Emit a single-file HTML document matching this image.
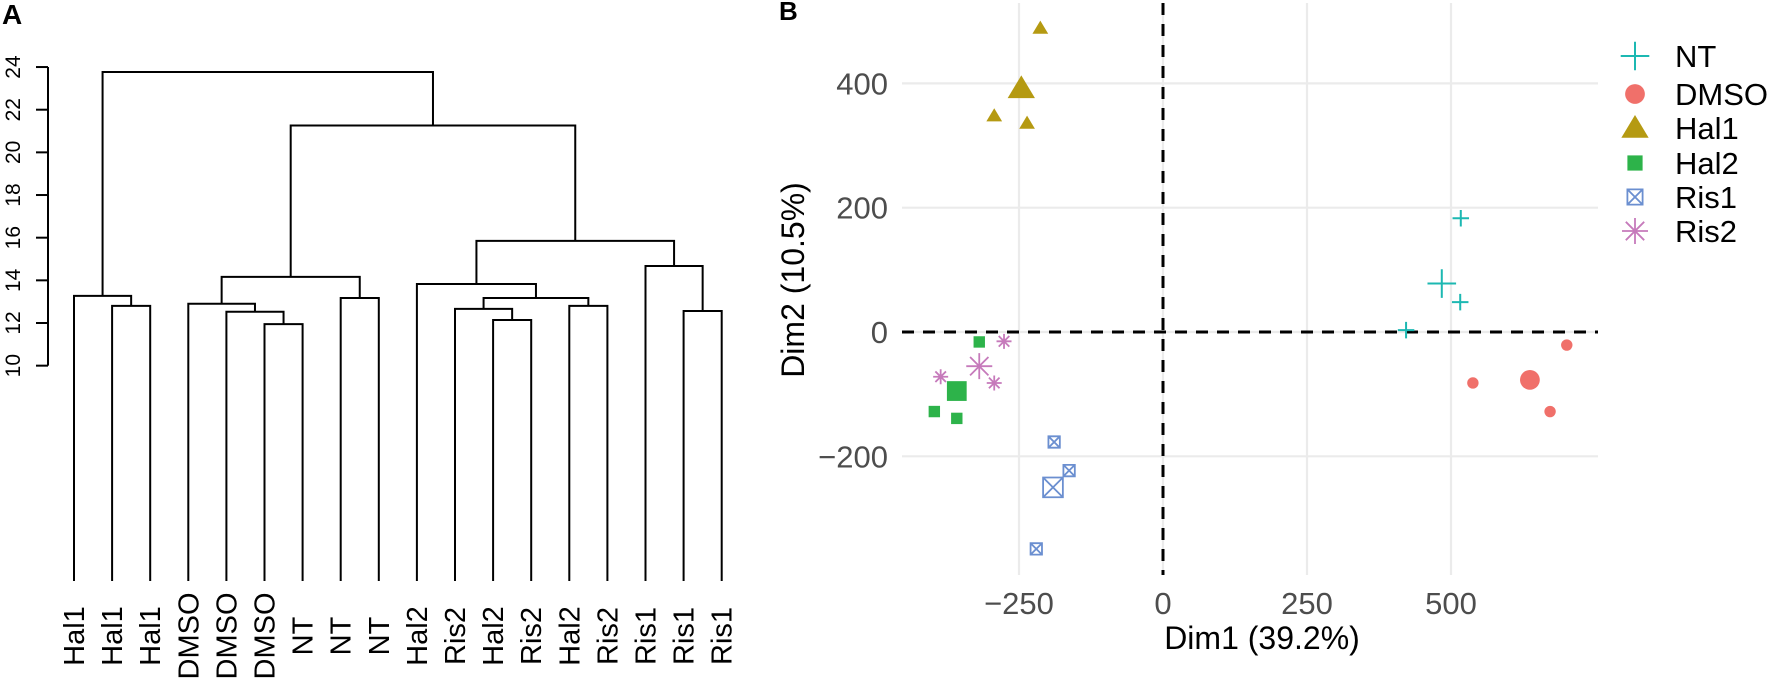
<!DOCTYPE html>
<html><head><meta charset="utf-8">
<style>
html,body{margin:0;padding:0;background:#fff;}
svg{display:block;font-family:"Liberation Sans",Arial,sans-serif;}
</style></head>
<body>
<svg id="fig" width="1772" height="688" viewBox="0 0 1772 688" xmlns="http://www.w3.org/2000/svg">
  <rect width="1772" height="688" fill="#fff"/>
  <text x="2" y="24" font-size="28" font-weight="bold">A</text>
  <text x="779" y="20" font-size="26" font-weight="bold">B</text>
  <g id="dendro"></g>
  <g id="pca"></g>
</svg>
<script>
// ---------- Dendrogram data ----------
const leafLabels = ["Hal1","Hal1","Hal1","DMSO","DMSO","DMSO","NT","NT","NT","Hal2","Ris2","Hal2","Ris2","Hal2","Ris2","Ris1","Ris1","Ris1"];
// merges: negative = leaf (-(i+1)), positive = merge number (1-based)
const mergeLeft  = [-2, -1, -6, -5, -4, -8, 5, -12, -11, -14, 9, -10, -17, -16, 12, 7, 2];
const mergeRight = [-3,  1, -7,  3,  4, -9, 6, -13,   8, -15, 10, 11, -18, 13, 14, 15, 16];
const mergeHeight= [12.8, 13.27, 11.95, 12.53, 12.9, 13.17, 14.16, 12.14, 12.66, 12.8, 13.17, 13.83, 12.56, 14.67, 15.85, 21.26, 23.77];
const dendroTicks = [10,12,14,16,18,20,22,24];

// ---------- PCA data ----------
const groups = ["NT","DMSO","Hal1","Hal2","Ris1","Ris2"];
const colors = {NT:"#1cb8b2",DMSO:"#f0706a",Hal1:"#b59a12",Hal2:"#2db34a",Ris1:"#6b8fd0",Ris2:"#c67abb"};
const ptGroup = ["NT","NT","NT","NT","DMSO","DMSO","DMSO","DMSO","Hal1","Hal1","Hal1","Hal1","Hal2","Hal2","Hal2","Hal2","Ris1","Ris1","Ris1","Ris1","Ris2","Ris2","Ris2","Ris2"];
const ptDim1  = [517,484,516,422, 701,538,637,672, -213,-246,-293,-236, -319,-358,-397,-358, -189,-163,-191,-220, -276,-319,-386,-293];
const ptDim2  = [183,78,48,3, -21,-82,-77,-128, 489,392,348,336, -16,-95,-128,-139, -177,-223,-250,-349, -15,-55,-72,-82];
const ptBig   = [0,1,0,0, 0,0,1,0, 0,1,0,0, 0,1,0,0, 0,0,1,0, 0,1,0,0];
const xTicks = [-250,0,250,500];
const yTicks = [-200,0,200,400];

const NS="http://www.w3.org/2000/svg";
function mk(tag, attrs, parent){const e=document.createElementNS(NS,tag);for(const k in attrs)e.setAttribute(k,attrs[k]);parent.appendChild(e);return e;}

// ---------- Draw dendrogram ----------
(function(){
  const g=document.getElementById('dendro');
  const x0=74, dx=38.1;
  const yScale=v=>323-(v-12)*21.33;
  const leafBottom=581;
  const ax=mk('line',{x1:48,x2:48,y1:yScale(24),y2:yScale(10),stroke:'#000','stroke-width':2},g);
  
  
  dendroTicks.forEach(t=>{
    const tl=mk('line',{x1:36,x2:48,y1:yScale(t),y2:yScale(t),stroke:'#000','stroke-width':2},g);
    
    
    const tx=mk('text',{x:0,y:0,'font-size':21,'text-anchor':'middle',transform:`translate(20,${yScale(t)}) rotate(-90)`,fill:'#000'},g);
    
    
    tx.textContent=t;
  });
  const pos={};
  function node(id){
    if(id<0){const i=-id-1;return {x:x0+i*dx,y:leafBottom};}
    return pos[id];
  }
  for(let m=0;m<mergeHeight.length;m++){
    const a=node(mergeLeft[m]), b=node(mergeRight[m]);
    const y=yScale(mergeHeight[m]);
    const p=mk('path',{d:`M${a.x},${a.y}V${y}H${b.x}V${b.y}`,fill:'none',stroke:'#000','stroke-width':2},g);
    
    
    pos[m+1]={x:(a.x+b.x)/2,y:y};
  }
  leafLabels.forEach((l,i)=>{
    const t=mk('text',{x:0,y:0,'font-size':29,'text-anchor':'middle',transform:`translate(${x0+i*dx+10},636) rotate(-90)`,fill:'#000'},g);
    
    
    t.textContent=l;
  });
})();

// ---------- Draw PCA ----------
(function(){
  const g=document.getElementById('pca');
  const L=902,R=1598,T=3,B=575;
  const sx=v=>1163+v*0.576;
  const sy=v=>332-v*0.6215;
  xTicks.forEach(t=>{
    const l=mk('line',{x1:sx(t),x2:sx(t),y1:T,y2:B,stroke:'#ebebeb','stroke-width':2.2},g);
    
    
    const tx=mk('text',{x:sx(t),y:614,'font-size':31,'text-anchor':'middle',fill:'#4d4d4d'},g);
    
    
    tx.textContent=(t<0?'\u2212'+(-t):t);
  });
  yTicks.forEach(t=>{
    const l=mk('line',{x1:L,x2:R,y1:sy(t),y2:sy(t),stroke:'#ebebeb','stroke-width':2.2},g);
    
    
    const tx=mk('text',{x:888,y:sy(t)+11,'font-size':31,'text-anchor':'end',fill:'#4d4d4d'},g);
    
    
    tx.textContent=(t<0?'\u2212'+(-t):t);
  });
  const h=mk('line',{x1:L,x2:R,y1:sy(0),y2:sy(0),stroke:'#000','stroke-width':3,'stroke-dasharray':'12 9'},g);
  
  
  const v=mk('line',{x1:sx(0),x2:sx(0),y1:T,y2:B,stroke:'#000','stroke-width':3,'stroke-dasharray':'12 9'},g);
  
  

  function marker(grp,cx,cy,s,parent){
    const c=colors[grp]; let e;
    if(grp==='NT'){e=mk('path',{d:`M${cx-s*0.55},${cy}H${cx+s*0.55}M${cx},${cy-s*0.55}V${cy+s*0.55}`,stroke:c,'stroke-width':2,fill:'none'},parent);}
    else if(grp==='DMSO'){e=mk('circle',{cx:cx,cy:cy,r:s*0.38,fill:c},parent);}
    else if(grp==='Hal1'){const r=s*0.5;e=mk('path',{d:`M${cx},${cy-r}L${cx+r*1.05},${cy+r*0.75}H${cx-r*1.05}Z`,fill:c},parent);}
    else if(grp==='Hal2'){const r=s*0.38;e=mk('rect',{x:cx-r,y:cy-r,width:2*r,height:2*r,fill:c},parent);}
    else if(grp==='Ris1'){const r=s*0.38;e=mk('path',{d:`M${cx-r},${cy-r}h${2*r}v${2*r}h${-2*r}Z M${cx-r},${cy-r}L${cx+r},${cy+r}M${cx+r},${cy-r}L${cx-r},${cy+r}`,stroke:c,'stroke-width':1.8,fill:'none'},parent);}
    else {const r=s*0.5,d=r*0.707;e=mk('path',{d:`M${cx-r},${cy}H${cx+r}M${cx},${cy-r}V${cy+r}M${cx-d},${cy-d}L${cx+d},${cy+d}M${cx+d},${cy-d}L${cx-d},${cy+d}`,stroke:c,'stroke-width':1.8,fill:'none'},parent);}
    return e;
  }
  ptGroup.forEach((grp,i)=>{
    const s=ptBig[i]?26:15;
    const e=marker(grp,sx(ptDim1[i]),sy(ptDim2[i]),s,g);
    
    
  });
  const xt=mk('text',{x:1262,y:649,'font-size':32,'text-anchor':'middle',fill:'#000'},g);
  
  
  xt.textContent='Dim1 (39.2%)';
  const yt=mk('text',{x:0,y:0,'font-size':32,'text-anchor':'middle',transform:'translate(804,280) rotate(-90)',fill:'#000'},g);
  
  
  yt.textContent='Dim2 (10.5%)';
  const legY=[56,94,128,163,197,231];
  groups.forEach((grp,i)=>{
    const lg=mk('g',{},g);
    
    
    marker(grp,1635,legY[i],grp==='Hal2'||grp==='Ris1'?20:26,lg);
    const t=mk('text',{x:1675,y:legY[i]+11,'font-size':31,fill:'#000'},lg);
    t.textContent=grp;
  });
})();
</script>
</body></html>
